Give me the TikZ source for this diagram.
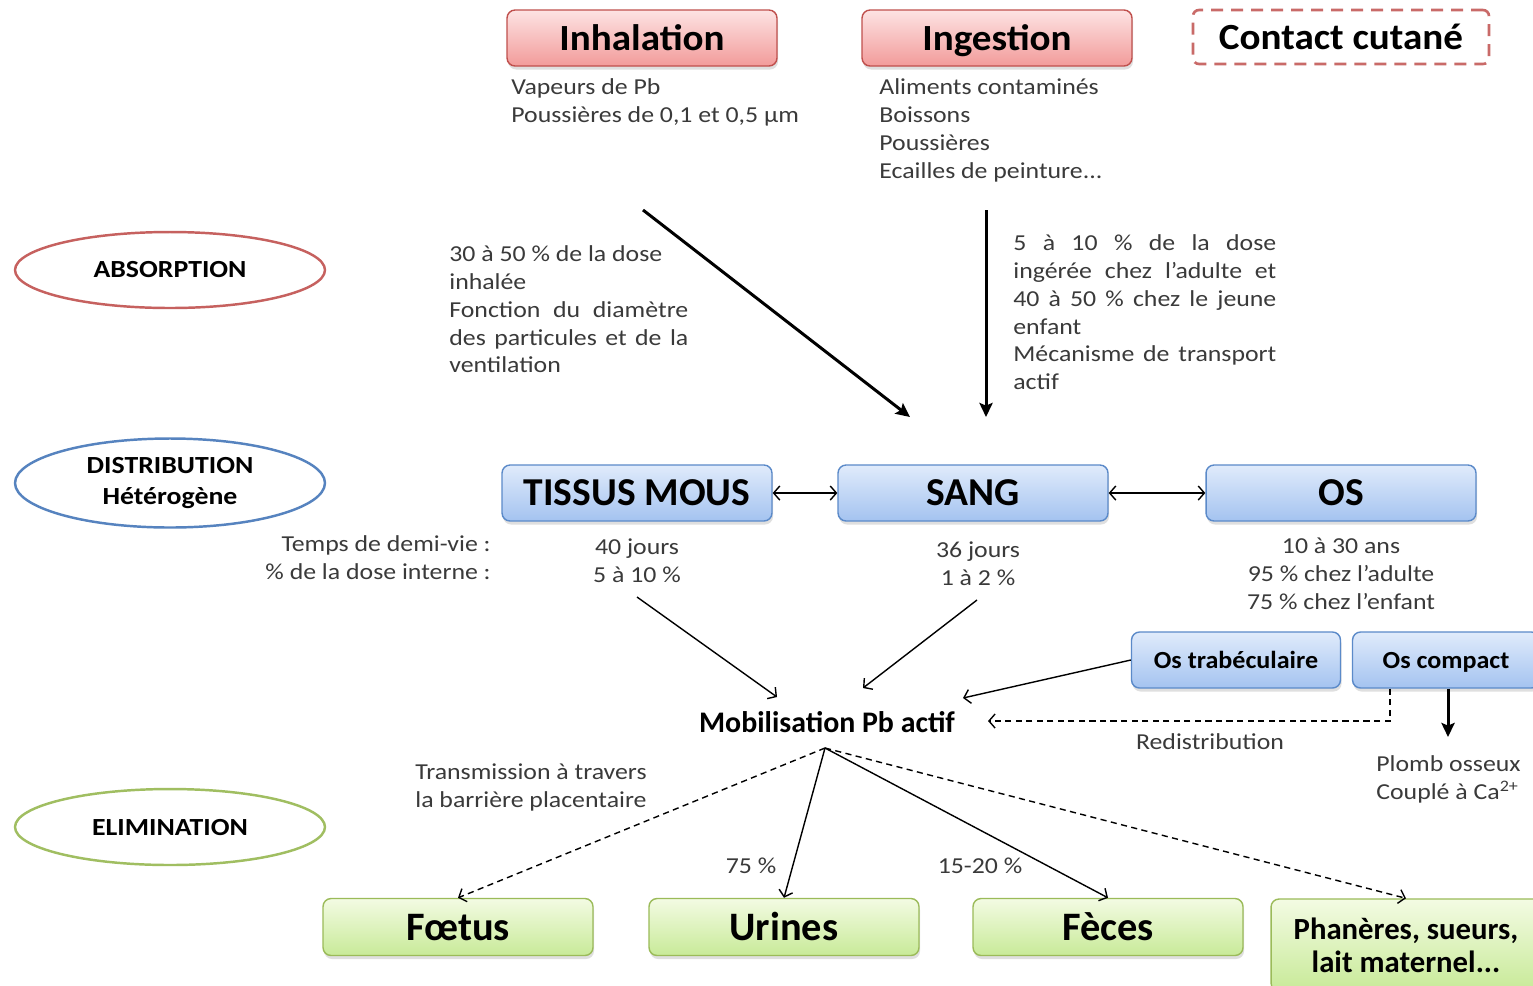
\documentclass[tikz,border=0pt]{standalone}
\usepackage{fontspec}
\setmainfont{Carlito}
\newfontfamily\widefont[FakeStretch=1.13]{Carlito}
\newfontfamily\semiwide[FakeStretch=1.06]{Carlito}
\usetikzlibrary{arrows,arrows.meta,shapes.geometric,shadows}

\definecolor{redline}{HTML}{C0504D}
\definecolor{redtop}{HTML}{FDE3E3}
\definecolor{redbot}{HTML}{F29B9A}
\definecolor{blueline}{HTML}{5B8AC9}
\definecolor{bluetop}{HTML}{E0EBFB}
\definecolor{bluebot}{HTML}{A4C3F0}
\definecolor{greenline}{HTML}{9BBB59}
\definecolor{greentop}{HTML}{F3FBE3}
\definecolor{greenbot}{HTML}{C8EA98}
\definecolor{txtgray}{HTML}{3A3A3A}

\tikzset{
  phase/.style={ellipse, draw, line width=1.4pt, minimum width=6.2cm, minimum height=1.52cm,
    align=center, font=\widefont\fontsize{14}{17.6}\selectfont\bfseries},
  softshadow/.style={drop shadow={shadow xshift=0.6pt, shadow yshift=-2pt, opacity=0.25}},
  routebox/.style={rectangle, rounded corners=0.16cm, draw=redline, line width=0.8pt,
    top color=redtop, bottom color=redbot, minimum width=5.4cm, minimum height=1.12cm,
    text height=15.5pt, text depth=1.6pt,
    softshadow, font=\semiwide\fontsize{21}{24}\selectfont\bfseries},
  organbox/.style={rectangle, rounded corners=0.16cm, draw=blueline, line width=0.8pt,
    top color=bluetop, bottom color=bluebot, minimum width=5.4cm, minimum height=1.12cm,
    softshadow, font=\fontsize{22.5}{26}\selectfont\bfseries},
  bonebox/.style={organbox, text height=10.5pt, text depth=0.7pt,
    font=\semiwide\fontsize{14}{16}\selectfont\bfseries},
  exitbox/.style={rectangle, rounded corners=0.16cm, draw=greenline, line width=0.8pt,
    top color=greentop, bottom color=greenbot, minimum width=5.4cm, minimum height=1.14cm,
    text height=17pt, text depth=1.4pt,
    softshadow, align=center, font=\fontsize{23}{26}\selectfont\bfseries},
  infotext/.style={text=txtgray, inner sep=0pt, font=\widefont\fontsize{13}{15.9}\selectfont},
  fatarrow/.style={-{Stealth[length=8pt,width=7.5pt,inset=1.5pt]}, line width=1.7pt},
  thinarrow/.style={-{Straight Barb[length=3.5pt,width=8pt]}, line width=0.8pt},
  bothways/.style={{Straight Barb[length=3.5pt,width=8pt]}-{Straight Barb[length=3.5pt,width=8pt]}, line width=0.8pt},
  dotline/.style={dash pattern=on 3.5pt off 2.5pt}
}

\begin{document}
\begin{tikzpicture}[x=0.02cm, y=-0.02cm]
      \fill[white] (0,0) rectangle (1533,985);
      \useasboundingbox (0,0) rectangle (1533,985);

      % phases
      \node[phase, draw=redline!90!white] (absorption) at (170,270) {ABSORPTION};
      \node[phase, draw=blueline!95!black] (distribution) at (170,483) {DISTRIBUTION\\Hétérogène};
      \node[phase, draw=greenline!95!white] (elimination) at (170,827) {ELIMINATION};

      % routes of exposure
      \node[routebox] (inhal) at (642,38) {Inhalation};
      \node[routebox] (ingest) at (997,38) {Ingestion};
      \node[rectangle, rounded corners=0.12cm, draw=redline!85!white, line width=1.5pt,
        dash pattern=on 0.24cm off 0.16cm, minimum width=5.92cm, minimum height=1.08cm,
        font=\semiwide\fontsize{21}{24}\selectfont\bfseries] (cutane) at (1341,37) {Contact cutané};

      \node[infotext, anchor=north west, align=left] (inhaltxt) at (511,78)
        {Vapeurs de Pb\\Poussières de 0,1 et 0,5 µm};
      \node[infotext, anchor=north west, align=left] (ingesttxt) at (879,78)
        {Aliments contaminés\\Boissons\\Poussières\\Ecailles de peinture...};

      \node[infotext, anchor=north west, align=left] (inhalabs) at (449,245)
        {30 à 50 \% de la dose\\inhalée\\\makebox[4.78cm][s]{Fonction du diamètre}\\
         \makebox[4.78cm][s]{des particules et de la}\\ventilation};
      \node[infotext, anchor=north west, align=left] (ingestabs) at (1013,234)
        {\makebox[5.26cm][s]{5 à 10 \% de la dose}\\\makebox[5.26cm][s]{ingérée chez l’adulte et}\\
         \makebox[5.26cm][s]{40 à 50 \% chez le jeune}\\enfant\\
         \makebox[5.26cm][s]{Mécanisme de transport}\\actif};

      \coordinate (inhalfrom) at (643,210);
      \coordinate (inhalto) at (910,417);
      \coordinate (ingestfrom) at (986,210);
      \coordinate (ingestto) at (986,417);
      \draw[fatarrow] (inhalfrom) -- (inhalto);
      \draw[fatarrow] (ingestfrom) -- (ingestto);

      % distribution
      \node[organbox] (tissus) at (637,493) {TISSUS MOUS};
      \node[organbox] (sang) at (973,493) {SANG};
      \node[organbox] (os) at (1341,493) {OS};
      \draw[bothways] (tissus) -- (sang);
      \draw[bothways] (sang) -- (os);

      \node[infotext, anchor=north east, align=right] (legend) at (491,535)
        {Temps de demi-vie :\\\% de la dose interne :};
      \node[infotext, anchor=north, align=center] (tissustxt) at (637,538) {40 jours\\5 à 10 \%};
      \node[infotext, anchor=north, align=center] (sangtxt) at (978,541) {36 jours\\1 à 2 \%};
      \node[infotext, anchor=north, align=center] (ostxt) at (1341,538)
        {10 à 30 ans\\95 \% chez l’adulte\\75 \% chez l’enfant};

      \node[bonebox, minimum width=4.18cm] (ostrab) at (1236,660) {Os trabéculaire};
      \node[bonebox, minimum width=3.74cm] (oscomp) at (1446,660) {Os compact};

      \node[font=\fontsize{17}{20}\selectfont\bfseries] (mobil) at (827,722) {Mobilisation Pb actif};

      \coordinate (tissusfrom) at (637,597);
      \coordinate (tissusto) at (777,697);
      \coordinate (sangfrom) at (977,600);
      \coordinate (sangto) at (863,688);
      \coordinate (trabto) at (963,698);
      \coordinate (redisto) at (988,721);
      \coordinate (plombto) at (1448,737);
      \draw[thinarrow] (tissusfrom) -- (tissusto);
      \draw[thinarrow] (sangfrom) -- (sangto);
      \draw[thinarrow] (ostrab.west) -- (trabto);
      \draw[thinarrow, dotline] ([xshift=-1.12cm]oscomp.south) |- (redisto);
      \draw[fatarrow] (oscomp.south -| plombto) -- (plombto);

      \node[infotext] (redis) at (1210,742) {Redistribution};
      \node[infotext, anchor=north west, align=left] (plomb) at (1376,755)
        {Plomb osseux\\Couplé à Ca\textsuperscript{2+}};

      % elimination
      \node[exitbox] (foetus) at (458,927) {Fœtus};
      \node[exitbox] (urines) at (784,927) {Urines};
      \node[exitbox] (feces) at (1108,927) {Fèces};
      \node[exitbox, minimum height=1.84cm, text height=, text depth=,
        font=\fontsize{17.5}{19}\selectfont\bfseries] (phaneres) at (1406,945)
        {Phanères, sueurs,\\lait maternel...};

      \coordinate (mobsrc) at (825,748);
      \draw[thinarrow, dotline] (mobsrc) -- (foetus.north);
      \draw[thinarrow] (mobsrc) -- (urines.north);
      \draw[thinarrow] (mobsrc) -- (feces.north);
      \draw[thinarrow, dotline] (mobsrc) -- (phaneres.north);

      \node[infotext, anchor=north west, align=left] (placenta) at (415,763)
        {Transmission à travers\\la barrière placentaire};
      \node[infotext] (urinespct) at (751,866) {75 \%};
      \node[infotext] (fecespct) at (980,866) {15-20 \%};
    \end{tikzpicture}
\end{document}
